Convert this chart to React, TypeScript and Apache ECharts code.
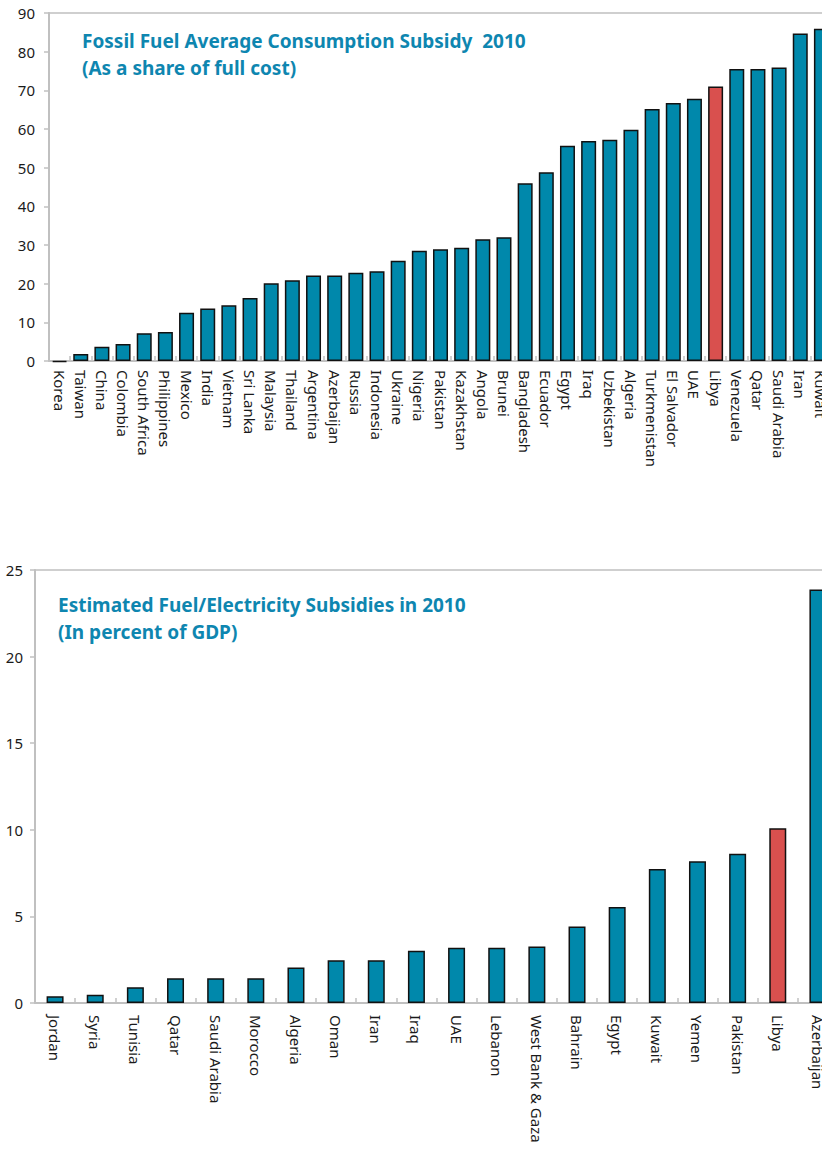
import React, { useEffect, useRef } from "react";
import * as echarts from "echarts";

// Fossil fuel average consumption subsidy, 2010 (share of full cost, %)
const subsidyCountries = [
  "Korea", "Taiwan", "China", "Colombia", "South Africa", "Philippines", "Mexico",
  "India", "Vietnam", "Sri Lanka", "Malaysia", "Thailand", "Argentina", "Azerbaijan",
  "Russia", "Indonesia", "Ukraine", "Nigeria", "Pakistan", "Kazakhstan", "Angola",
  "Brunei", "Bangladesh", "Ecuador", "Egypt", "Iraq", "Uzbekistan", "Algeria",
  "Turkmenistan", "El Salvador", "UAE", "Libya", "Venezuela", "Qatar", "Saudi Arabia",
  "Iran", "Kuwait",
];
const subsidyShare = [
  -0.3, 1.8, 3.7, 4.4, 7.2, 7.5, 12.5,
  13.6, 14.4, 16.3, 20.1, 20.9, 22.1, 22.1,
  22.8, 23.2, 25.9, 28.5, 28.9, 29.3, 31.5,
  32.0, 46.0, 48.8, 55.7, 56.9, 57.2, 59.8,
  65.2, 66.7, 67.8, 71.0, 75.5, 75.5, 75.9,
  84.7, 85.9,
];
const shareTicks = { min: 0, max: 90, interval: 10 };

// Estimated fuel/electricity subsidies in 2010 (percent of GDP)
const gdpCountries = [
  "Jordan", "Syria", "Tunisia", "Qatar", "Saudi Arabia", "Morocco", "Algeria",
  "Oman", "Iran", "Iraq", "UAE", "Lebanon", "West Bank & Gaza", "Bahrain",
  "Egypt", "Kuwait", "Yemen", "Pakistan", "Libya", "Azerbaijan",
];
const gdpShare = [
  0.39, 0.48, 0.91, 1.43, 1.43, 1.43, 2.05,
  2.47, 2.47, 3.01, 3.19, 3.19, 3.26, 4.41,
  5.54, 7.74, 8.18, 8.61, 10.09, 23.87,
];
const gdpTicks = { min: 0, max: 25, interval: 5 };

const highlighted = "Libya";

const BAR = "#0088ab";
const HIGHLIGHT = "#d9504e";
const AXIS = "#c0c0c0";
const TEXT = "#1a1a1a";
const TITLE = "#0e86b0";
const FONT = "'Noto Sans', sans-serif";

function barData(names: string[], values: number[]) {
  return values.map((v, i) => ({
    value: v,
    itemStyle: { color: names[i] === highlighted ? HIGHLIGHT : BAR },
  }));
}

function categoryAxis(gridIndex: number, names: string[], margin: number) {
  return {
    type: "category",
    gridIndex,
    data: names,
    axisLine: { show: true, lineStyle: { color: AXIS, width: 2 } },
    axisTick: { show: true, inside: true, length: 5, lineStyle: { color: AXIS, width: 1.5 } },
    axisLabel: {
      rotate: -90,
      interval: 0,
      margin,
      color: TEXT,
      fontFamily: FONT,
      fontSize: 15,
    },
  };
}

function valueAxis(gridIndex: number, t: { min: number; max: number; interval: number }, margin: number) {
  return {
    type: "value",
    gridIndex,
    min: t.min,
    max: t.max,
    interval: t.interval,
    axisLine: { show: true, lineStyle: { color: AXIS, width: 2 } },
    axisTick: { show: true, inside: false, length: 5, lineStyle: { color: AXIS, width: 1.5 } },
    splitLine: { show: false },
    axisLabel: { margin, color: TEXT, fontFamily: FONT, fontSize: 15 },
  };
}

export default function App() {
  const ref = useRef<HTMLDivElement>(null);

  useEffect(() => {
    if (!ref.current) return;
    const chart = echarts.init(ref.current, undefined, { renderer: "svg" });
    const titleStyle = {
      color: TITLE,
      fontFamily: FONT,
      fontWeight: "bold" as const,
      fontSize: 19,
      lineHeight: 27,
    };
    chart.setOption({
      animation: false,
      backgroundColor: "#ffffff",
      title: [
        {
          text: "Fossil Fuel Average Consumption Subsidy  2010\n(As a share of full cost)",
          left: 82,
          top: 27,
          padding: 0,
          textStyle: titleStyle,
        },
        {
          text: "Estimated Fuel/Electricity Subsidies in 2010\n(In percent of GDP)",
          left: 58,
          top: 591,
          padding: 0,
          textStyle: titleStyle,
        },
      ],
      grid: [
        { left: 49, top: 13, width: 783, height: 348, show: true, borderColor: AXIS, borderWidth: 1.5 },
        { left: 35, top: 570, width: 803, height: 433, show: true, borderColor: AXIS, borderWidth: 1.5 },
      ],
      xAxis: [categoryAxis(0, subsidyCountries, 9), categoryAxis(1, gdpCountries, 12)],
      yAxis: [valueAxis(0, shareTicks, 14), valueAxis(1, gdpTicks, 12)],
      series: [
        {
          type: "bar",
          xAxisIndex: 0,
          yAxisIndex: 0,
          data: barData(subsidyCountries, subsidyShare),
          barWidth: 15,
          clip: false,
          itemStyle: { borderColor: "#111111", borderWidth: 1.5 },
        },
        {
          type: "bar",
          xAxisIndex: 1,
          yAxisIndex: 1,
          data: barData(gdpCountries, gdpShare),
          barWidth: 17,
          itemStyle: { borderColor: "#111111", borderWidth: 1.5 },
        },
      ],
    });
    return () => chart.dispose();
  }, []);

  return (
    <div style={{ position: "absolute", left: 0, top: 0, width: 822, height: 1149, overflow: "hidden", background: "#fff" }}>
      <div ref={ref} style={{ width: 850, height: 1149 }} />
    </div>
  );
}
